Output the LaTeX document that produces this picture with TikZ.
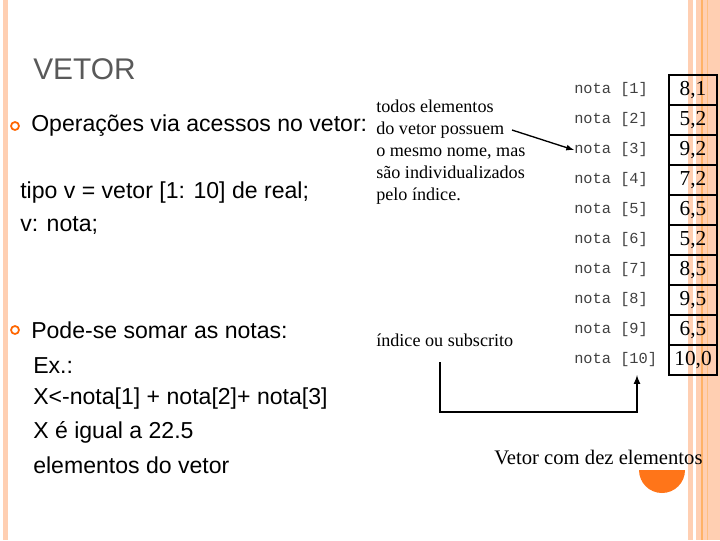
\documentclass[tikz,border=0pt]{standalone}
\usepackage{fontspec}
\setmainfont{Liberation Sans}
\newfontfamily\serf{Liberation Serif}
\newfontfamily\mono{Liberation Mono}
\begin{document}
\begin{tikzpicture}[x=0.75pt,y=-0.75pt,
  slide/.style={anchor=west,inner sep=0,font=\fontsize{17.3}{24}\selectfont},
  fig/.style={anchor=west,inner sep=0,font=\serf\fontsize{13.6}{16.5}\selectfont,align=left},
  nt/.style={anchor=west,inner sep=0,font=\mono\fontsize{11.5}{14}\selectfont,text=black!75},
  cell/.style={draw,line width=1.2pt,minimum width=36pt,minimum height=22.5pt,inner sep=0,font=\serf\fontsize{16}{18}\selectfont},
  bul/.style={circle,draw=orange!80!red,line width=1.3pt,minimum size=6pt,inner sep=0}]
\useasboundingbox (0,0) rectangle (720,540);
\fill[white] (0,0) rectangle (720,540);
\fill[red!25!orange!30] (3,0) rectangle (8,540);
\fill[red!25!orange!30] (688,0) rectangle (693,540);
\fill[red!25!orange!30] (696,0) rectangle (720,540);
\draw[orange!60,line width=0.8pt] (702,0) -- (702,540);
\draw[orange!50,line width=0.6pt] (707,0) -- (707,540);
\fill[orange!80!red!90] (639,470) arc[start angle=180,end angle=0,radius=23] -- cycle;
\node[anchor=west,inner sep=0,font=\fontsize{22.4}{26}\selectfont,text=black!65] (t) at (33,69) {VETOR};
\node[bul] (b1) at (15,126) {};
\node[slide] (o1) at (31,126) {Operações via acessos no vetor:};
\node[slide] (o2) at (20,193) {tipo v = vetor [1: 10] de real;};
\node[slide] (o2b) at (20,226) {v: nota;};
\node[bul] (b2) at (15,330) {};
\node[slide] (o3) at (31,330) {Pode-se somar as notas:};
\node[slide] (o4) at (33,366) {Ex.:};
\node[slide] (o5) at (33,399) {X<-nota[1] + nota[2]+ nota[3]};
\node[slide] (o6) at (33,432) {X é igual a 22.5};
\node[slide] (o7) at (33,465) {elementos do vetor};
\node[fig,anchor=north west] (d1) at (376,100) {todos elementos\\do vetor possuem\\o mesmo nome, mas\\são individualizados\\pelo índice.};
\node[fig] (d2) at (376,340) {índice ou subscrito};
\node[anchor=west,inner sep=0,font=\serf\fontsize{15.5}{18}\selectfont] (cap) at (494,457) {Vetor com dez elementos};
\foreach \i/\v in {1/{8,1},2/{5,2},3/{9,2},4/{7,2},5/{6,5},6/{5,2},7/{8,5},8/{9,5},9/{6,5},10/{10,0}}{
  \node[cell] (c\i) at (693,{60+30*\i}) {\v};
  \node[nt] (n\i) at (574,{60+30*\i}) {nota [\i]};
}
\draw[line width=1pt,-latex] (512,130) -- (n3.west);
\coordinate (k1) at (440,362);
\coordinate (k2) at (440,412);
\coordinate (k3) at (637,412);
\draw[line width=1.3pt,-latex] (k1) -- (k2) -- (k3) -- (637,375);
\end{tikzpicture}
\end{document}
